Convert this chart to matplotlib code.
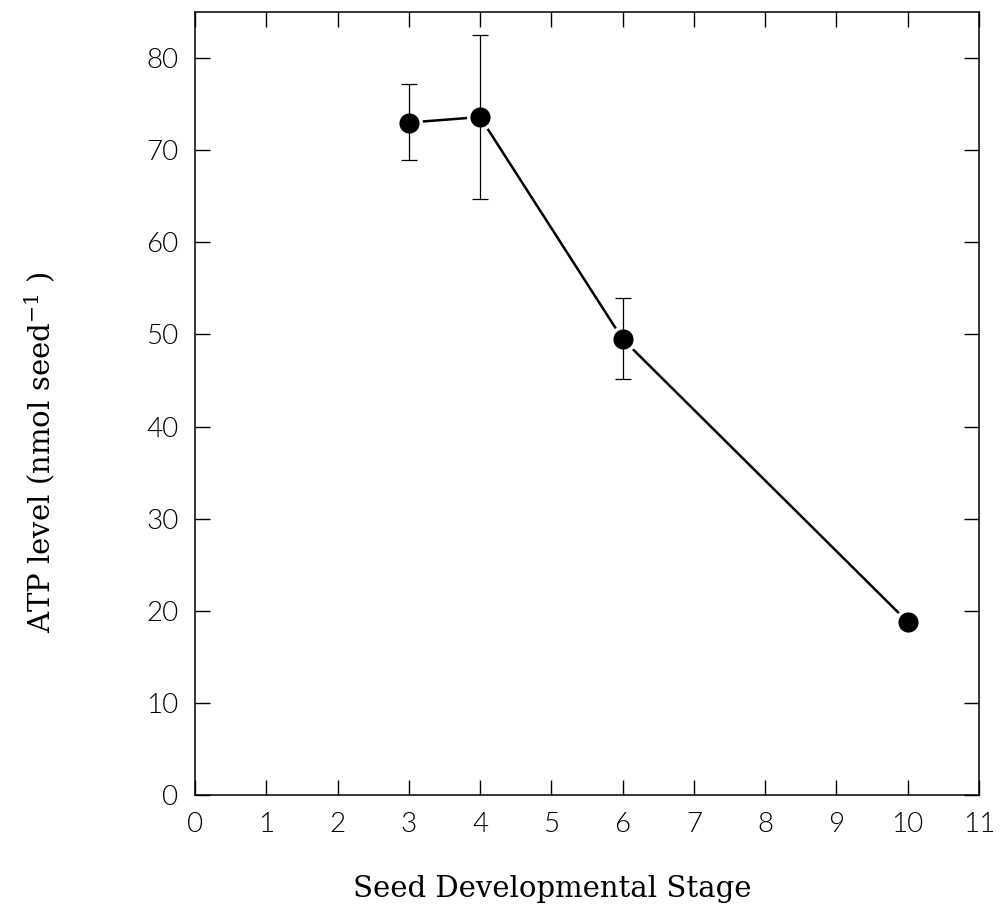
import matplotlib.pyplot as plt
import numpy as np

plt.rcParams['mathtext.fontset'] = 'dejavuserif'

# ATP content of seeds across developmental stages
stage = [3, 4, 6, 10]
atp = [73.0, 73.6, 49.5, 18.8]
err_low = [4.1, 8.9, 4.3, 0.0]
err_high = [4.2, 8.9, 4.5, 0.0]

x_ticks = list(range(0, 12))
y_ticks = list(range(0, 90, 10))

tick_font = {'family': 'Lato', 'weight': 300, 'size': 20, 'color': 'black'}
label_font = {'family': 'DejaVu Serif', 'size': 21}

fig = plt.figure(figsize=(10.02, 9.11), dpi=100)
ax = fig.add_axes([0.1946, 0.1273, 0.7824, 0.8595])

# connecting line, then markers with a white rim so the line stops short of them
ax.plot(stage, atp, color='black', linewidth=1.8, zorder=2)
ax.plot(stage, atp, linestyle='none', marker='o', markersize=17,
        markerfacecolor='black', markeredgecolor='white',
        markeredgewidth=2.5, zorder=3)
ax.errorbar(stage, atp, yerr=[err_low, err_high], fmt='none',
            ecolor='black', elinewidth=0.9, capsize=6, capthick=0.9,
            zorder=4)

ax.set_xlim(0, 11)
ax.set_ylim(0, 85)
ax.set_xticks(x_ticks)
ax.set_yticks(y_ticks)
ax.set_xticklabels([str(v) for v in x_ticks], fontdict=tick_font)
ax.set_yticklabels([str(v) for v in y_ticks], fontdict=tick_font)
ax.tick_params(direction='in', length=11, width=1, top=True, right=True,
               pad=12)

for s in ax.spines.values():
    s.set_linewidth(1.1)

ax.set_xlabel('Seed Developmental Stage', fontdict=label_font)
ax.set_ylabel('ATP level (nmol seed$^{-1}$ )', fontdict=label_font)
ax.xaxis.set_label_coords(0.456, -0.12)
ax.xaxis.label.set_va('center')
ax.yaxis.set_label_coords(-0.198, 0.438)
ax.yaxis.label.set_va('center')

fig.savefig('out.png', dpi=100)
